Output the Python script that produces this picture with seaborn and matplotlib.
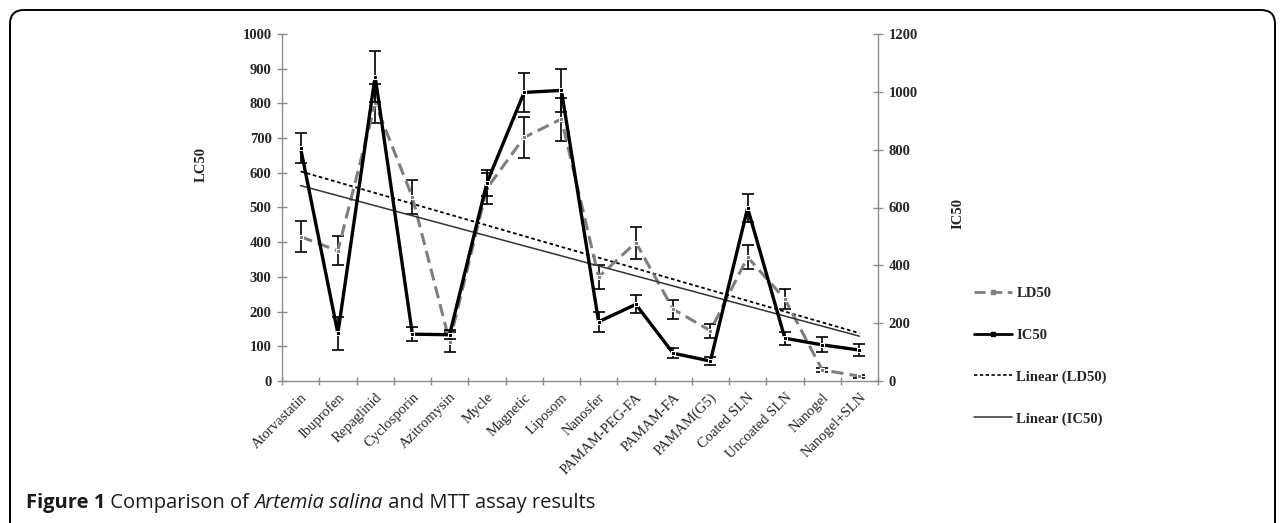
import numpy as np
import pandas as pd
import seaborn as sns
import matplotlib.pyplot as plt
from matplotlib.patches import FancyBboxPatch
from matplotlib.lines import Line2D
from matplotlib.transforms import IdentityTransform

categories = ["Atorvastatin", "Ibuprofen", "Repaglinid", "Cyclosporin", "Azitromysin",
              "Mycle", "Magnetic", "Liposom", "Nanosfer", "PAMAM-PEG-FA", "PAMAM-FA",
              "PAMAM(G5)", "Coated SLN", "Uncoated SLN", "Nanogel", "Nanogel+SLN"]
# LD50 on the left axis (LC50), IC50 on the right axis
ld50 = [416, 375, 800, 530, 113, 555, 702, 755, 300, 399, 207, 145, 357, 236, 32, 14]
ld50_err = [45, 42, 56, 50, 28, 45, 58, 62, 34, 46, 27, 20, 34, 28, 5, 4]
ic50 = [805, 165, 1053, 162, 160, 685, 998, 1005, 205, 265, 96, 69, 598, 148, 125, 107]
ic50_err = [52, 58, 89, 24, 15, 45, 67, 74, 35, 31, 17, 15, 47, 22, 26, 20]

df = pd.DataFrame({"pos": np.arange(len(categories)), "ld50": ld50, "ic50": ic50})

sns.set_style("white")
plt.rcParams['font.family'] = ['Liberation Serif', 'DejaVu Serif']

W, H = 1281, 523
fig = plt.figure(figsize=(W / 100, H / 100), dpi=100)
ax = fig.add_axes([282 / W, 1 - 381 / H, 596 / W, 347 / H])
ax2 = ax.twinx()

gray = "#8c8c8c"

# trend lines
sns.regplot(data=df, x="pos", y="ld50", ax=ax, scatter=False, ci=None,
            line_kws=dict(color="black", lw=1.3, ls=(0, (2, 1.5))))
sns.regplot(data=df, x="pos", y="ic50", ax=ax2, scatter=False, ci=None,
            line_kws=dict(color="#333333", lw=1.1))

# LD50 series
ax.errorbar(df["pos"], df["ld50"], yerr=ld50_err, fmt="none", ecolor="black",
            elinewidth=1.2, capsize=4, capthick=1.2, zorder=3)
sns.lineplot(data=df, x="pos", y="ld50", ax=ax, color="#7f7f7f", lw=2.2,
             linestyle=(0, (4, 2)), marker="s", markersize=3, zorder=4)

# IC50 series
ax2.errorbar(df["pos"], df["ic50"], yerr=ic50_err, fmt="none", ecolor="black",
             elinewidth=1.2, capsize=4, capthick=1.2, zorder=3)
sns.lineplot(data=df, x="pos", y="ic50", ax=ax2, color="black", lw=2.4,
             marker="s", markersize=2.5, zorder=4)

ax.set_ylim(0, 1000)
ax2.set_ylim(0, 1200)
ax.set_xlim(-0.5, len(categories) - 0.5)
ax.set_yticks(np.arange(0, 1001, 100))
ax2.set_yticks(np.arange(0, 1201, 200))

ax.set_xticks(np.arange(-0.5, len(categories), 1))
ax.set_xticklabels([])
ax.set_xticks(df["pos"], minor=True)
ax.set_xticklabels(categories, minor=True, rotation=45, ha="right",
                   rotation_mode="anchor", fontsize=10.5)
ax.tick_params(axis="x", which="minor", length=0, pad=7)
ax.tick_params(axis="x", which="major", bottom=True, length=6,
               direction="inout", color=gray, width=1)
ax.tick_params(axis="y", left=True, length=7, direction="inout",
               color=gray, width=1, labelsize=10.5, pad=4)
ax2.tick_params(axis="y", right=True, length=7, direction="inout",
                color=gray, width=1, labelsize=10.5, pad=4)
for t in ax.get_yticklabels() + ax2.get_yticklabels():
    t.set_fontweight("bold")

ax.set_xlabel("")
ax.set_ylabel("LC50", fontsize=10.5, fontweight="bold")
ax2.set_ylabel("IC50", fontsize=10.5, fontweight="bold")
ax.yaxis.set_label_coords(-0.125, 0.625)
ax2.yaxis.set_label_coords(1.123, 0.484)

for a in (ax, ax2):
    a.spines["top"].set_visible(False)
    for s in ("left", "bottom", "right"):
        a.spines[s].set_color(gray)
        a.spines[s].set_linewidth(1)
ax.spines["right"].set_visible(False)
ax2.spines["left"].set_visible(False)
ax2.spines["bottom"].set_visible(False)

handles = [
    Line2D([], [], color="#7f7f7f", lw=2, ls=(0, (4, 2)), marker="s", markersize=2.5),
    Line2D([], [], color="black", lw=2, marker="s", markersize=2.5),
    Line2D([], [], color="black", lw=1.2, ls=(0, (2, 1.5))),
    Line2D([], [], color="#333333", lw=1.1),
]
labels = ["LD50", "IC50", "Linear (LD50)", "Linear (IC50)"]
fig.legend(handles, labels, loc="upper left", bbox_to_anchor=(974 / W, 1 - 287 / H),
           frameon=False, prop=dict(family="Liberation Serif", weight="bold", size=10.5),
           handlelength=2.6, handletextpad=0.3, labelspacing=1.95,
           borderaxespad=0, borderpad=0)

# rounded frame around the figure
frame = FancyBboxPatch((10, -30), 1265, H - 10 + 30,
                       boxstyle="round,pad=0,rounding_size=14",
                       transform=IdentityTransform(), fill=False,
                       ec="black", lw=1.4)
fig.patches.append(frame)

# caption
renderer = fig.canvas.get_renderer()
parts = [("Figure 1", "bold", "normal"), (" Comparison of ", "normal", "normal"),
         ("Artemia salina", "normal", "italic"), (" and MTT assay results", "normal", "normal")]
x = 26 / W
for txt, wt, st in parts:
    t = fig.text(x, 1 - 503 / H, txt, fontsize=14.5, fontweight=wt, fontstyle=st,
                 family="Open Sans", va="center", ha="left", color="#1a1a1a")
    bb = t.get_window_extent(renderer)
    x = bb.x1 / W

fig.savefig("out.png", dpi=100)
